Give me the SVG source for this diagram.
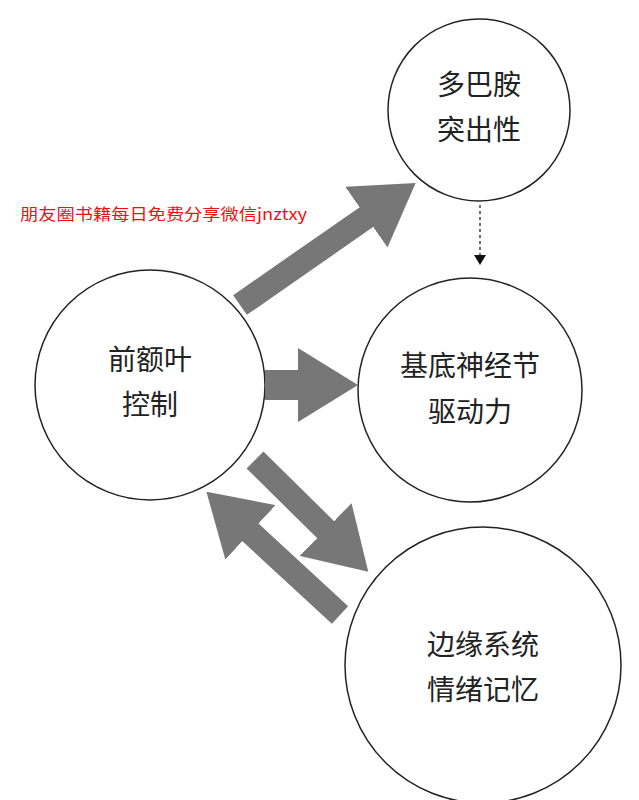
<svg xmlns="http://www.w3.org/2000/svg" width="639" height="800" viewBox="0 0 639 800">
<style>
.n{fill:#fff;stroke:#222;stroke-width:1.5}
.t{font-family:"Noto Sans CJK SC",sans-serif;font-size:28px;fill:#222;text-anchor:middle}
.a{stroke:#777;stroke-width:24;fill:none}
</style>
<defs>
<marker id="h" markerUnits="userSpaceOnUse" viewBox="0 0 60 74" refX="2" refY="37" markerWidth="60" markerHeight="74" orient="auto"><path d="M0,0 L60,37 L0,74 Z" fill="#777"/></marker>
<marker id="s" markerUnits="userSpaceOnUse" viewBox="0 0 10 12" refX="10" refY="6" markerWidth="10" markerHeight="14" orient="auto"><path d="M0,0 L10,6 L0,12 Z" fill="#111"/></marker>
</defs>
<rect width="639" height="800" fill="#fff"/>
<g id="n1"><circle class="n" cx="479" cy="110" r="91"/><text class="t" x="479" y="95">多巴胺</text><text class="t" x="479" y="140">突出性</text></g>
<g id="n2"><circle class="n" cx="470" cy="390" r="112"/><text class="t" x="470" y="376">基底神经节</text><text class="t" x="470" y="422">驱动力</text></g>
<g id="n3"><circle class="n" cx="150" cy="385" r="115"/><text class="t" x="150" y="370">前额叶</text><text class="t" x="150" y="415">控制</text></g>
<g id="n4"><circle class="n" cx="483" cy="665" r="138"/><text class="t" x="483" y="655">边缘系统</text><text class="t" x="483" y="700">情绪记忆</text></g>
<g id="edges">
<line class="a" x1="240" y1="305" x2="368" y2="216" marker-end="url(#h)"/>
<line class="a" x1="265" y1="385" x2="300" y2="385" marker-end="url(#h)" style="stroke-width:30"/>
<line class="a" x1="255" y1="460" x2="327" y2="531" marker-end="url(#h)"/>
<line class="a" x1="340" y1="615" x2="249" y2="531" marker-end="url(#h)"/>
<line x1="480" y1="205" x2="480" y2="265" stroke="#111" stroke-width="1.2" stroke-dasharray="3,3" marker-end="url(#s)"/>
</g>
<text x="20" y="220" font-family="Noto Sans CJK SC,sans-serif" font-size="16" fill="#ee1111" textLength="287" lengthAdjust="spacingAndGlyphs">朋友圈书籍每日免费分享微信jnztxy</text>
</svg>
